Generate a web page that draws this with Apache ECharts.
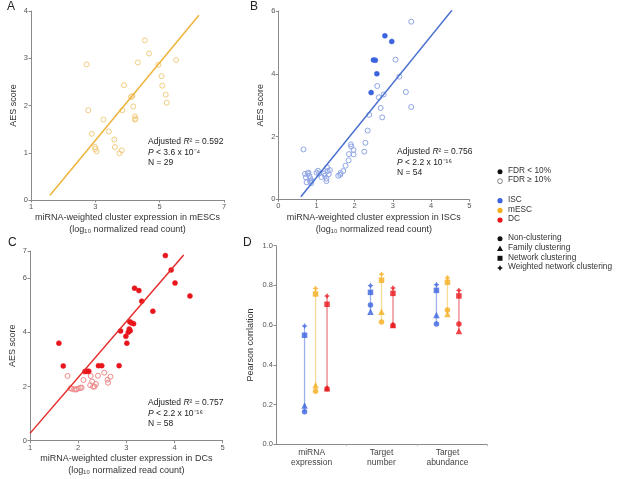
<!DOCTYPE html>
<html><head><meta charset="utf-8">
<script src="https://cdn.jsdelivr.net/npm/echarts@6/dist/echarts.min.js"></script>
<style>html,body{margin:0;padding:0;background:#fff}#c{width:618px;height:479px}</style>
</head><body><div id="c"></div><script>
// ---------- Panel A (mESC) ----------
const mescOpen = [[2.73,2.87],[2.78,1.90],[2.89,1.40],[2.99,1.12],[3.04,1.03],[3.00,1.08],[3.25,1.70],[3.42,1.45],[3.59,1.28],[3.61,1.12],[3.75,0.99],[3.82,1.05],[3.84,1.90],[3.89,2.43],[4.11,2.18],[4.18,1.98],[4.23,1.77],[4.25,1.72],[4.23,1.70],[4.32,2.91],[4.54,3.38],[4.67,3.10],[4.96,2.86],[5.06,2.62],[5.08,2.42],[5.19,2.23],[5.22,2.06],[5.51,2.96],[4.15,2.20]];
const fitA = [[1.59,0.10],[6.22,3.91]];
// ---------- Panel B (ISC) ----------
const iscFilled = [[2.79,5.21],[2.97,5.03],[2.49,4.44],[2.54,4.43],[2.58,4.00],[2.43,3.40]];
const iscOpen = [[3.48,5.66],[3.07,4.45],[3.17,3.91],[2.59,3.61],[2.63,3.25],[2.76,3.34],[3.34,3.42],[3.48,2.94],[2.68,2.91],[2.72,2.61],[2.38,2.69],[2.34,2.19],[2.28,1.80],[2.25,1.52],[1.90,1.75],[1.91,1.68],[1.97,1.57],[1.97,1.43],[1.85,1.44],[1.84,1.24],[1.76,1.07],[1.70,0.90],[1.63,0.84],[1.57,0.75],[0.66,1.59],[0.70,0.81],[0.77,0.82],[0.81,0.75],[0.84,0.67],[0.74,0.54],[0.83,0.57],[0.87,0.59],[1.04,0.91],[1.07,0.82],[1.13,0.71],[1.20,0.82],[1.26,0.66],[1.28,1.01],[1.29,0.90],[1.32,0.80],[1.35,0.93],[1.26,0.58],[0.79,0.85],[0.86,0.51],[0.72,0.70],[1.00,0.85],[1.22,0.75],[1.62,0.78]];
const fitB = [[0.59,0.08],[4.55,6.03]];
// ---------- Panel C (DC) ----------
const dcFilled = [[1.60,3.60],[1.69,2.76],[3.81,6.83],[3.93,6.30],[4.01,5.82],[4.32,5.34],[3.17,5.63],[3.26,5.54],[3.32,5.15],[3.55,4.78],[3.07,4.39],[3.15,4.32],[3.06,4.12],[3.04,4.00],[2.99,3.85],[3.01,3.60],[2.85,2.77],[2.42,2.77],[2.49,2.77],[2.14,2.55],[2.19,2.56],[2.22,2.56],[3.08,4.06],[2.88,4.05],[3.10,4.35]];
const dcOpen = [[1.78,2.39],[1.87,1.92],[1.91,1.89],[1.96,1.89],[2.01,1.93],[2.07,1.96],[2.11,2.24],[2.26,2.39],[2.29,2.18],[2.31,1.99],[2.37,2.09],[2.41,2.40],[2.54,2.51],[2.61,2.25],[2.62,2.14],[2.67,2.36],[2.25,2.05],[1.84,1.93],[2.05,1.95],[2.34,2.00],[1.95,1.90]];
const fitC = [[1.00,0.27],[4.19,6.85]];
// ---------- Panel D ----------
const dGroups = ['miRNA\nexpression','Target\nnumber','Target\nabundance'];
const cellTypes = ['ISC','mESC','DC'];
const methods = ['Non-clustering','Family clustering','Network clustering','Weighted network clustering'];
const iscNon = [0.164,0.702,0.606], iscFam = [0.195,0.668,0.651], iscNet = [0.549,0.765,0.775], iscWt = [0.596,0.799,0.804];
const mescNon = [0.267,0.616,0.676], mescFam = [0.297,0.668,0.656], mescNet = [0.757,0.826,0.816], mescWt = [0.785,0.856,0.839];
const dcNon = [0.280,0.600,0.606], dcFam = [0.282,0.601,0.570], dcNet = [0.705,0.760,0.747], dcWt = [0.747,0.787,0.775];
const fdrLabels = ['FDR < 10%','FDR \u2265 10%'];

const FONT = 'Liberation Sans, Arial, Helvetica, sans-serif';
const COL = {
  isc:{main:'#3B63DE', line:'#4A70CF', open:'#8FA5E6', vline:'#9DB1EA'},
  mesc:{main:'#F5AE1E', line:'#EDB33A', open:'#F2CC80', vline:'#F6DA96'},
  dc:{main:'#E8161C', line:'#E52A2A', open:'#EE8A8A', vline:'#EE7F86'}
};
const starPath = 'path://M0,-10 L3.5,-3.5 L10,0 L3.5,3.5 L0,10 L-3.5,3.5 L-10,0 L-3.5,-3.5 Z';
const methodSymbols = ['circle','triangle','rect', starPath];
const methodSizes = [5.5, 6.5, 5.5, 6];

const axisBase = {
  axisLine:{show:true, onZero:false, lineStyle:{color:'#8a8a8a', width:1}},
  axisTick:{show:true, length:2.5, lineStyle:{color:'#8a8a8a'}},
  axisLabel:{fontSize:7.5, color:'#555', margin:3, fontFamily:FONT},
  splitLine:{show:false},
  nameTextStyle:{fontSize:9, color:'#333', fontFamily:FONT, lineHeight:12}
};
function ax(o){ return Object.assign({}, JSON.parse(JSON.stringify(axisBase)), o); }

const xName = c => 'miRNA-weighted cluster expression in ' + c + '\n(log\u2081\u2080 normalized read count)';

const xAxes = [
  ax({gridIndex:0, type:'value', min:1, max:7, interval:2, name:xName('mESCs'), nameLocation:'middle', nameGap:10}),
  ax({gridIndex:1, type:'value', min:0, max:5, interval:1, name:xName('ISCs'), nameLocation:'middle', nameGap:10}),
  ax({gridIndex:2, type:'value', min:1, max:5, interval:1, name:xName('DCs'), nameLocation:'middle', nameGap:10}),
  ax({gridIndex:3, type:'value', min:0, max:3.2,
      axisLabel:{fontSize:8.5, color:'#444', margin:3, lineHeight:10, fontFamily:FONT,
        customValues:[0.54,1.6,2.6], formatter:(v)=>dGroups[Math.round(v-0.55)]},
      axisTick:{show:true, length:2, lineStyle:{color:'#bbb'}, customValues:[1.07,2.14,3.2]}})
];
const yAxes = [
  ax({gridIndex:0, type:'value', min:0, max:4, interval:1, name:'AES score', nameLocation:'middle', nameGap:11}),
  ax({gridIndex:1, type:'value', min:0, max:6, interval:2, name:'AES score', nameLocation:'middle', nameGap:12}),
  ax({gridIndex:2, type:'value', min:0, max:7, name:'AES score', nameLocation:'middle', nameGap:10,
      axisLabel:{fontSize:7.5, color:'#555', margin:3, fontFamily:FONT, customValues:[0,2,4,6,7]},
      axisTick:{show:true, length:2.5, lineStyle:{color:'#8a8a8a'}, customValues:[0,2,4,6,7]}}),
  ax({gridIndex:3, type:'value', min:0, max:1, interval:0.2, name:'Pearson corrlation', nameLocation:'middle', nameGap:19,
      axisLabel:{fontSize:7.5, color:'#555', margin:3, fontFamily:FONT, formatter:v=>v.toFixed(1)}})
];

const series = [];
function scatter(idx, data, c, filled){
  series.push({type:'scatter', xAxisIndex:idx, yAxisIndex:idx, data:data, symbol:'circle', symbolSize:5,
    itemStyle: filled ? {color:c.main, borderColor:c.main, borderWidth:0.5, opacity:1}
                      : {color:'rgba(255,255,255,0)', borderColor:c.open, borderWidth:1, opacity:1},
    z: filled?4:3, silent:true});
}
function fit(idx, data, c){
  series.push({type:'line', xAxisIndex:idx, yAxisIndex:idx, data:data, showSymbol:false, symbol:'none',
    lineStyle:{color:c.line, width:1.5}, z:5, silent:true});
}
scatter(0, mescOpen, COL.mesc, false); fit(0, fitA, COL.mesc);
scatter(1, iscOpen, COL.isc, false); scatter(1, iscFilled, COL.isc, true); fit(1, fitB, COL.isc);
scatter(2, dcOpen, COL.dc, false); scatter(2, dcFilled, COL.dc, true); fit(2, fitC, COL.dc);

// Panel D
const dSets = [
  {c:COL.isc, off:-0.167, vals:[iscNon, iscFam, iscNet, iscWt]},
  {c:COL.mesc, off:0.0, vals:[mescNon, mescFam, mescNet, mescWt]},
  {c:COL.dc, off:0.174, vals:[dcNon, dcFam, dcNet, dcWt]}
];
dSets.forEach(s=>{
  dGroups.forEach((g,gi)=>{
    const vs = s.vals.map(a=>a[gi]);
    const x = gi + 0.6 + s.off;
    series.push({type:'line', xAxisIndex:3, yAxisIndex:3, showSymbol:false, symbol:'none', silent:true,
      data:[[x, Math.min(...vs)],[x, Math.max(...vs)]], lineStyle:{color:s.c.vline, width:1.3}, z:2});
  });
  s.vals.forEach((arr,mi)=>{
    series.push({type:'scatter', xAxisIndex:3, yAxisIndex:3, silent:true, z:4,
      symbol:methodSymbols[mi], symbolSize:methodSizes[mi],
      data: arr.map((v,gi)=>[gi + 0.6 + s.off, v]),
      itemStyle:{color:s.c.main}});
  });
});

// graphics: panel letters, annotations, legend
const g = [];
[['A',7,1],['B',250,1],['C',8,237],['D',243,237]].forEach(p=>{
  g.push({type:'text', left:p[1], top:p[2], style:{text:p[0], font:'12px '+FONT, fill:'#222'}});
});
const rich = {a:{fontSize:8.5, fontFamily:FONT, fill:'#222', lineHeight:10.2},
              i:{fontSize:8.5, fontFamily:FONT, fontStyle:'italic', fill:'#222', lineHeight:10.2}};
function annot(x, y, r2, p, n){
  g.push({type:'text', left:x, top:y, style:{
    text:'{a|Adjusted }{i|R}{a|\u00b2 = '+r2+'}\n{i|P}{a| < '+p+'}\n{a|N = '+n+'}', rich:rich, fill:'#222'}});
}
annot(148, 137.5, '0.592', '3.6 x 10\u207b\u2074', '29');
annot(397, 147.5, '0.756', '2.2 x 10\u207b\u00b9\u2076', '54');
annot(148, 398.5, '0.757', '2.2 x 10\u207b\u00b9\u2076', '58');

const LX = 500, TX = 508;
function legText(y, t){ g.push({type:'text', left:TX, top:y-5, style:{text:t, font:'8.3px '+FONT, fill:'#333'}}); }
g.push({type:'circle', shape:{cx:LX, cy:171.7, r:2.5}, style:{fill:'#111'}}); legText(171.7, fdrLabels[0]);
g.push({type:'circle', shape:{cx:LX, cy:181.2, r:2.4}, style:{fill:'#fff', stroke:'#666', lineWidth:0.8}}); legText(181.2, fdrLabels[1]);
const cellCols = [COL.isc.main, COL.mesc.main, COL.dc.main];
cellTypes.forEach((t,i)=>{ const y = 200.7 + i*9.7;
  g.push({type:'circle', shape:{cx:LX, cy:y, r:2.6}, style:{fill:cellCols[i]}}); legText(y, t); });
methods.forEach((t,i)=>{ const y = 238.7 + i*9.8;
  let sh;
  if(i===0) sh = {type:'circle', shape:{cx:LX, cy:y, r:2.5}, style:{fill:'#111'}};
  else if(i===1) sh = {type:'polygon', shape:{points:[[LX-3,y+2.5],[LX+3,y+2.5],[LX,y-3]]}, style:{fill:'#111'}};
  else if(i===2) sh = {type:'rect', shape:{x:LX-2.5, y:y-2.5, width:5, height:5}, style:{fill:'#111'}};
  else sh = {type:'polygon', shape:{points:[[LX,y-3],[LX+1,y-1],[LX+3,y],[LX+1,y+1],[LX,y+3],[LX-1,y+1],[LX-3,y],[LX-1,y-1]]}, style:{fill:'#111'}};
  g.push(sh); legText(y, t); });

const chart = echarts.init(document.getElementById('c'), null, {renderer:'canvas'});
chart.setOption({
  animation:false, backgroundColor:'#fff',
  textStyle:{fontFamily:FONT},
  grid:[
    {left:31, top:11, width:193, height:189},
    {left:278.3, top:11, width:191, height:188.3},
    {left:30, top:251, width:192.7, height:189.7},
    {left:276, top:245.7, width:211, height:198.6}
  ],
  xAxis:xAxes, yAxis:yAxes, series:series, graphic:g
});
</script></body></html>
